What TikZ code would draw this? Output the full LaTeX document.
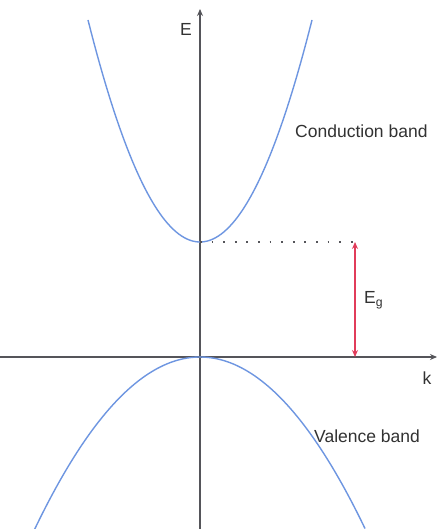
\documentclass[tikz,border=0pt]{standalone}
\usepackage{fontspec}
\setmainfont{Liberation Sans}
\usetikzlibrary{arrows.meta}
\definecolor{axisgray}{RGB}{85,85,90}
\definecolor{bandblue}{RGB}{110,150,225}
\definecolor{gapred}{RGB}{225,60,90}
\definecolor{labelgray}{RGB}{50,50,50}
\tikzset{
  axis/.style={draw=axisgray, line width=1.6pt, -{Stealth[length=7pt,width=6pt]}},
  band/.style={draw=bandblue, line width=1.4pt},
  gap/.style={draw=gapred, line width=1.4pt, {Stealth[length=7pt,width=6pt]}-{Stealth[length=7pt,width=6pt]}},
  dotline/.style={draw=axisgray, line width=1.8pt, dash pattern=on 1.8pt off 9.8pt},
  lbl/.style={text=labelgray, font=\fontsize{17.5pt}{20pt}\selectfont, inner sep=0pt},
}
\begin{document}
\begin{tikzpicture}[x=1pt,y=-1pt]
\useasboundingbox (0,0) rectangle (438,529);
\fill[white] (0,0) rectangle (438,529);
% axes
\coordinate (vbot) at (200,529);
\coordinate (vtop) at (200,9);
\coordinate (hleft) at (0,357);
\coordinate (hright) at (437,357);
\draw[axis] (vbot) -- (vtop);
\draw[axis] (hleft) -- (hright);
% bands
\begin{scope}
\clip (0,0) rectangle (438,529);
\draw[band] plot[domain=-11.2:11.2, samples=80, smooth] ({200+10*\x},{242-1.77*\x*\x});
\draw[band] plot[domain=-16.7:16.5, samples=100, smooth] ({200+10*\x},{357+0.63*\x*\x});
\end{scope}
% gap
\coordinate (cmin) at (200,242);
\coordinate (dend) at (354,242);
\draw[dotline] (cmin) -- (dend);
\coordinate (gtop) at (355,242);
\coordinate (gbot) at (355,357);
\draw[gap] (gtop) -- (gbot);
% labels
\node[lbl, anchor=center] (E) at (186,29) {E};
\node[lbl, anchor=center] (k) at (427,378) {k};
\node[lbl, anchor=west] (Eg) at (364,300) {E\textsubscript{g}};
\node[lbl, anchor=west] (cb) at (295,131) {Conduction band};
\node[lbl, anchor=west] (vb) at (314,436) {Valence band};
\end{tikzpicture}
\end{document}
